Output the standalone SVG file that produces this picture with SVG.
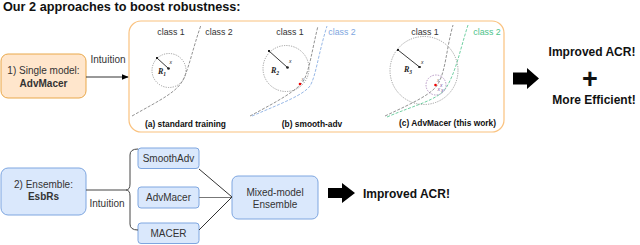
<svg xmlns="http://www.w3.org/2000/svg" width="640" height="245" viewBox="0 0 640 245">
<defs>
<style>
text{font-family:"Liberation Sans",Arial,sans-serif;}
.t{font-size:10px;fill:#333;text-anchor:middle;}
.b{font-weight:bold;}
.cl{font-size:8.8px;fill:#333;text-anchor:middle;}
.cap{font-size:8.4px;font-weight:bold;fill:#111;text-anchor:middle;}
.big{font-size:12px;font-weight:bold;fill:#111;text-anchor:middle;}
.org{fill:#FFE6CC;stroke:#E9A84A;stroke-width:1;}
.blu{fill:#DAE8FC;stroke:#7EA6E0;stroke-width:1;}
.ln{fill:none;stroke:#333;stroke-width:1;}
.bd{fill:none;stroke:#777;stroke-width:0.8;stroke-dasharray:3 1.5;}
.cir{fill:none;stroke:#888;stroke-width:0.8;stroke-dasharray:1.2 1.2;}
.rad{stroke:#222;stroke-width:0.9;}
.R{font-size:8px;font-style:italic;font-weight:bold;fill:#222;font-family:"Liberation Serif",serif;}
.x{font-size:5px;font-style:italic;fill:#222;}
</style>
<marker id="ah" viewBox="0 0 10 10" refX="9" refY="5" markerWidth="7" markerHeight="7" orient="auto"><path d="M0,1 L10,5 L0,9 Z" fill="#000"/></marker>
<marker id="dot" viewBox="0 0 4 4" refX="2" refY="2" markerWidth="3" markerHeight="3"><circle cx="2" cy="2" r="2" fill="#222"/></marker>
</defs>
<rect width="640" height="245" fill="#fff"/>
<text x="3" y="11" style="font-size:12.7px;font-weight:bold;fill:#111">Our 2 approaches to boost robustness:</text>

<g id="single">
<rect class="org" x="1" y="54" width="85" height="44" rx="7"/>
<text class="t" x="43.5" y="74">1) Single model:</text>
<text class="t b" x="43.5" y="87">AdvMacer</text>
</g>

<g id="panel">
<rect x="129" y="21" width="375" height="111" rx="12" fill="#fff" stroke="#FAC27F" stroke-width="1.2"/>
<!-- (a) -->
<text class="cl" x="171" y="35">class 1</text>
<text class="cl" x="219" y="35">class 2</text>
<path class="bd" d="M132,116 C160,100 178,92 184,78 C190,64 193,48 201,25"/>
<circle class="cir" cx="169" cy="70.5" r="17"/>
<line class="rad" x1="157" y1="58" x2="168.5" y2="68.5" marker-start="url(#dot)" marker-end="url(#dot)"/>
<text class="R" x="158" y="74">R<tspan font-size="5.5" dy="1.5">1</tspan></text>
<text class="x" x="169.5" y="64">x</text>
<text class="cap" x="185.5" y="127">(a) standard training</text>
<!-- (b) -->
<text class="cl" x="290" y="35">class 1</text>
<text class="cl" x="342" y="35" style="fill:#7EA6E0">class 2</text>
<path class="bd" d="M250,116 C280,100 298,90 304,80 C310,68 312,50 318,26"/>
<path class="bd" style="stroke:#7EA6E0" d="M252,116 C285,102 303,95 310,86 C316,76 318,55 327,26"/>
<circle class="cir" cx="286" cy="68.5" r="23"/>
<line class="rad" x1="269" y1="51" x2="287.5" y2="67.5" marker-start="url(#dot)" marker-end="url(#dot)"/>
<text class="R" x="271" y="73">R<tspan font-size="5.5" dy="1.5">2</tspan></text>
<text class="x" x="289" y="63">x</text>
<circle cx="300" cy="84" r="1.3" fill="#E00"/>
<text class="x" x="301.5" y="81" style="fill:#777">x</text>
<text class="cap" x="312" y="127">(b) smooth-adv</text>
<!-- (c) -->
<text class="cl" x="425" y="35">class 1</text>
<text class="cl" x="487" y="35" style="fill:#4CC38A">class 2</text>
<path class="bd" d="M385,116 C415,102 432,94 438,84 C446,70 446,50 453,25"/>
<path class="bd" style="stroke:#4CC38A" d="M387,117 C415,105 438,100 446,88 C456,72 460,50 468,25"/>
<circle class="cir" cx="424" cy="70.5" r="34"/>
<line class="rad" x1="398" y1="50" x2="419.5" y2="67" marker-start="url(#dot)" marker-end="url(#dot)"/>
<text class="R" x="404" y="72">R<tspan font-size="5.5" dy="1.5">3</tspan></text>
<text class="x" x="421" y="64">x</text>
<circle cx="436" cy="85" r="10" fill="none" stroke="#A680B8" stroke-width="0.8" stroke-dasharray="1.5 1.2"/>
<circle cx="435.5" cy="85" r="1.3" fill="#E00"/>
<text class="x" x="437" y="82" style="fill:#777">x</text>
<text class="x" x="440" y="87" style="fill:#7A4FA0">x</text>
<text class="x" x="437.5" y="91" style="fill:#7A4FA0">x</text>
<text class="x" x="441" y="91.5" style="fill:#7A4FA0">x</text>
<text class="cap" x="447.5" y="126">(c) AdvMacer (this work)</text>
</g>

<g id="arrow-top">
<path d="M513,72.5 L527,72.5 L527,68 L539,78.5 L527,89 L527,84.5 L513,84.5 Z" fill="#000"/>
</g>
<g id="result-top">
<text class="big" x="592" y="56">Improved ACR!</text>
<text class="big" x="590" y="88" style="font-size:27px">+</text>
<text class="big" x="594" y="104">More Efficient!</text>
</g>

<g id="ensemble">
<rect class="blu" x="1" y="168" width="85" height="47" rx="7"/>
<text class="t" x="43.5" y="188">2) Ensemble:</text>
<text class="t b" x="43.5" y="200">EsbRs</text>
</g>
<g id="smoothadv">
<rect class="blu" x="138" y="148" width="61" height="20.5" rx="3"/>
<text class="t" x="168.5" y="162">SmoothAdv</text>
</g>
<g id="advmacer">
<rect class="blu" x="138" y="187" width="61" height="21" rx="3"/>
<text class="t" x="168.5" y="201">AdvMacer</text>
</g>
<g id="macer">
<rect class="blu" x="138" y="223" width="61" height="20.5" rx="3"/>
<text class="t" x="168.5" y="237">MACER</text>
</g>
<g id="mixed">
<rect class="blu" x="232" y="176" width="86" height="43" rx="6"/>
<text class="t" x="275" y="196">Mixed-model</text>
<text class="t" x="275" y="208">Ensemble</text>
</g>

<g id="connectors">
<line class="ln" x1="86" y1="77" x2="128" y2="77" marker-end="url(#ah)"/>
<text class="t" x="108" y="63">Intuition</text>
<line class="ln" x1="86" y1="190" x2="126" y2="190" style="stroke:#444"/>
<path class="ln" style="stroke:#444" d="M138,149 Q130,149 130,155 L130,184 Q130,190 126,190 Q130,190 130,196 L130,224 Q130,230 138,230"/>
<text class="t" x="107" y="207">Intuition</text>
<line class="ln" x1="199" y1="169" x2="232" y2="197"/>
<line class="ln" x1="199" y1="197.5" x2="232" y2="197.5" style="stroke:#777"/>
<line class="ln" x1="199" y1="230" x2="232" y2="197"/>
<path d="M328,188 L342,188 L342,183 L355,193 L342,203 L342,198 L328,198 Z" fill="#000"/>
</g>
<g id="result-bottom">
<text class="big" x="363" y="198" style="text-anchor:start">Improved ACR!</text>
</g>
</svg>
